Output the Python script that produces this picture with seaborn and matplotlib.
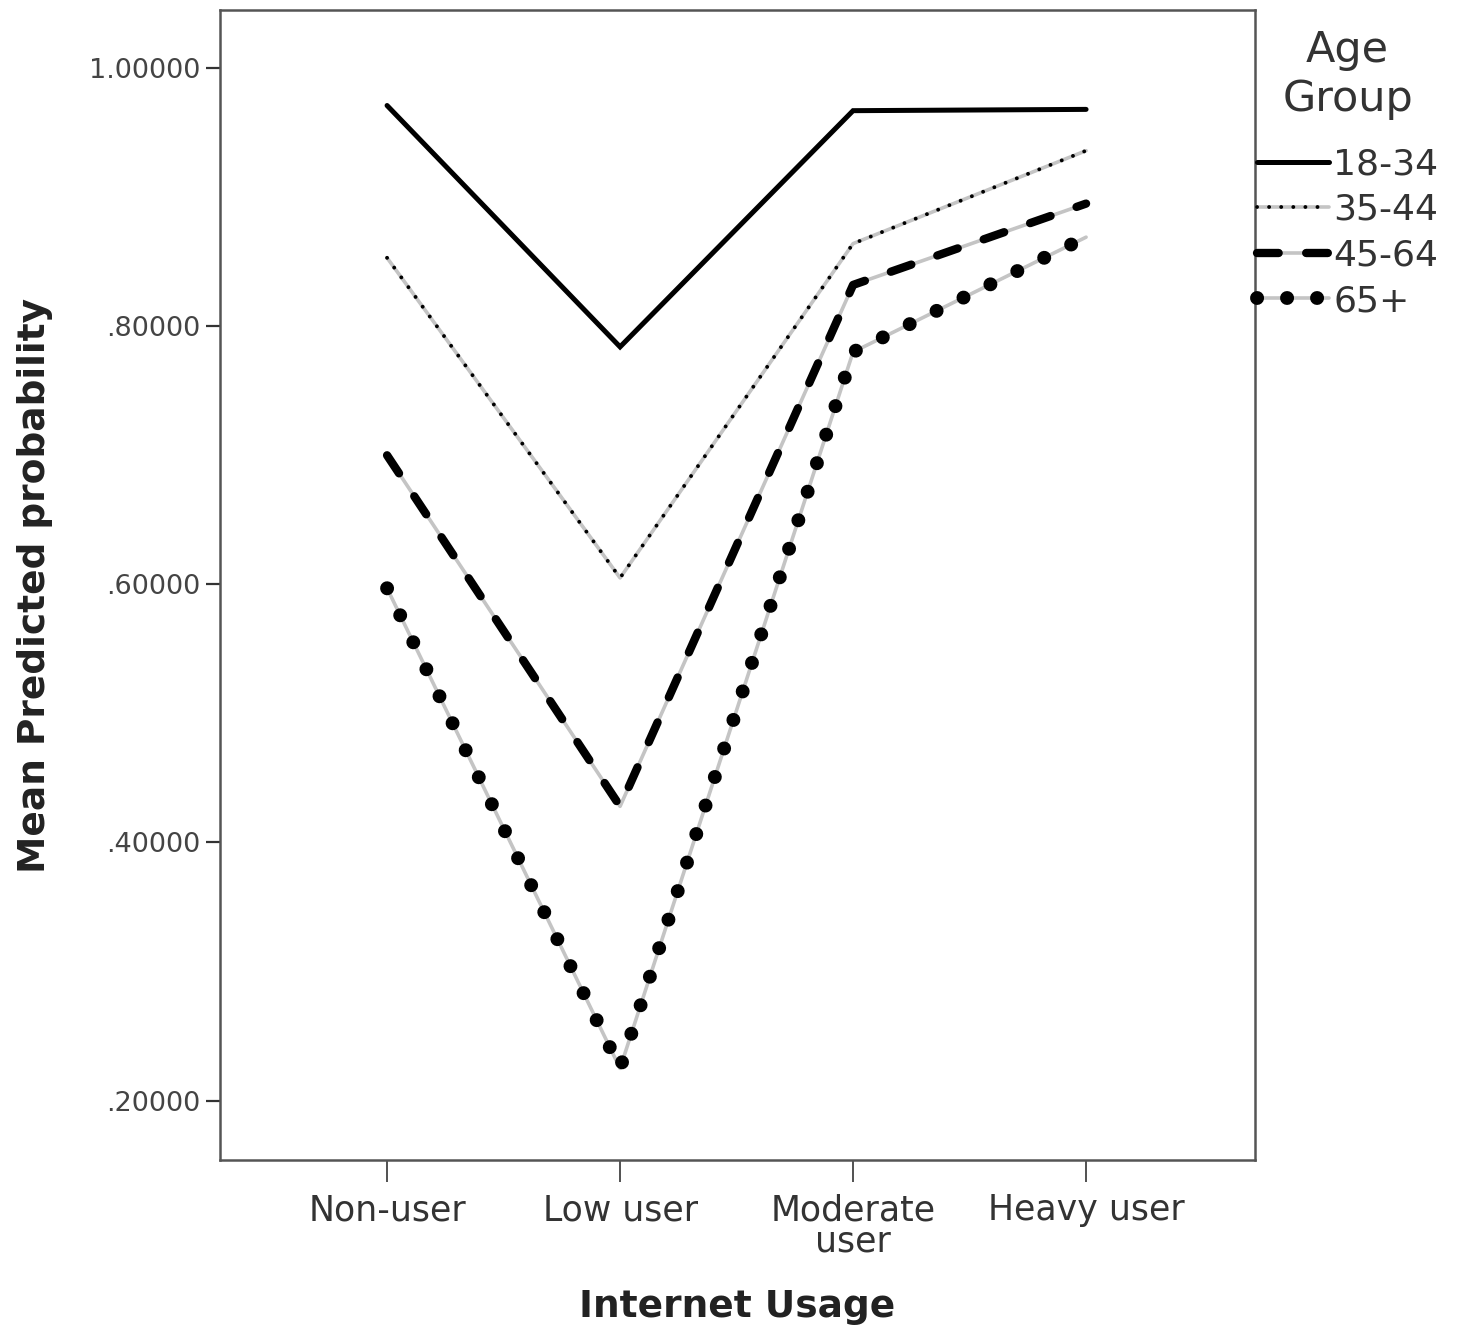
import matplotlib
matplotlib.use("Agg")
import matplotlib.pyplot as plt
import seaborn as sns
import pandas as pd
from matplotlib.ticker import FuncFormatter
from matplotlib.legend_handler import HandlerTuple

categories = ["Non-user", "Low user", "Moderate\nuser", "Heavy user"]
age_groups = ["18-34", "35-44", "45-64", "65+"]
p_18_34 = [0.971, 0.784, 0.967, 0.968]
p_35_44 = [0.853, 0.605, 0.864, 0.936]
p_45_64 = [0.700, 0.428, 0.832, 0.895]
p_65p = [0.597, 0.225, 0.780, 0.869]
yticks = [0.2, 0.4, 0.6, 0.8, 1.0]

series = {"18-34": p_18_34, "35-44": p_35_44, "45-64": p_45_64, "65+": p_65p}
rows = []
for g in age_groups:
    for c, v in zip(categories, series[g]):
        rows.append({"Internet Usage": c, "Prob": v, "Age Group": g})
df = pd.DataFrame(rows)

sns.set_style("white")
plt.rcParams["font.family"] = ["DejaVu Sans"]

fig = plt.figure(figsize=(14.61, 13.35), dpi=100)
ax = fig.add_axes([220 / 1461, 1 - 1160 / 1335, (1255 - 220) / 1461, (1160 - 10) / 1335])

styles = {
    "18-34": dict(lw=3.6, linestyle="-", under=False),
    "35-44": dict(lw=2.8, linestyle=(0, (0.01, 3.1)), under=True),
    "45-64": dict(lw=6.0, linestyle=(0, (2.6, 3.3)), under=True),
    "65+": dict(lw=10.0, linestyle=(0, (0.01, 2.15)), under=True),
}

handles = []
for g in age_groups:
    sub = df[df["Age Group"] == g]
    st = styles[g]
    parts = []
    if st["under"]:
        n0 = len(ax.lines)
        sns.lineplot(data=sub, x="Internet Usage", y="Prob", ax=ax, color="#c4c4c4",
                     lw=2.6, sort=False, legend=False, zorder=1)
        parts.append(ax.lines[n0])
    n0 = len(ax.lines)
    sns.lineplot(data=sub, x="Internet Usage", y="Prob", ax=ax, color="black",
                 lw=st["lw"], linestyle=st["linestyle"], sort=False, legend=False,
                 dash_capstyle="round", solid_capstyle="round", solid_joinstyle="miter",
                 zorder=3)
    parts.append(ax.lines[n0])
    handles.append(tuple(parts))

ax.set_xlim(-0.717, 3.725)
ax.set_ylim(0.154, 1.045)
ax.set_yticks(yticks)
ax.yaxis.set_major_formatter(FuncFormatter(lambda v, p: ("%.5f" % v).lstrip("0")))

for s in ax.spines.values():
    s.set_color("#555555")
    s.set_linewidth(1.8)

ax.tick_params(axis="x", length=16, width=1.2, color="#333333", direction="out", pad=8,
               labelsize=25, labelcolor="#333333")
ax.tick_params(axis="y", length=10, width=1.6, color="#333333", direction="out", pad=4,
               labelsize=19.5, labelcolor="#444444")
ax.tick_params(left=True, bottom=True)
for t in ax.get_xticklabels():
    t.set_linespacing(0.9)

ax.set_xlabel("Internet Usage", fontsize=27, fontweight="bold",
              color="#222222", labelpad=22)
ax.set_ylabel("Mean Predicted probability", fontsize=27, fontweight="bold",
              color="#222222", labelpad=26)

leg = ax.legend(handles, age_groups, title="Age\nGroup", loc="upper left",
                bbox_to_anchor=(1.0, 0.985), frameon=False, fontsize=26,
                title_fontsize=31, handlelength=2.0, handletextpad=0.12,
                labelspacing=0.32, borderaxespad=0.05, borderpad=0.0,
                handler_map={tuple: HandlerTuple(ndivide=1, pad=0)})
leg.get_title().set_color("#333333")
leg.get_title().set_multialignment("center")
leg._legend_box.align = "center"
leg._legend_box.sep = 20
for t in leg.get_texts():
    t.set_color("#333333")

fig.savefig("out.png", dpi=100, facecolor="white")
